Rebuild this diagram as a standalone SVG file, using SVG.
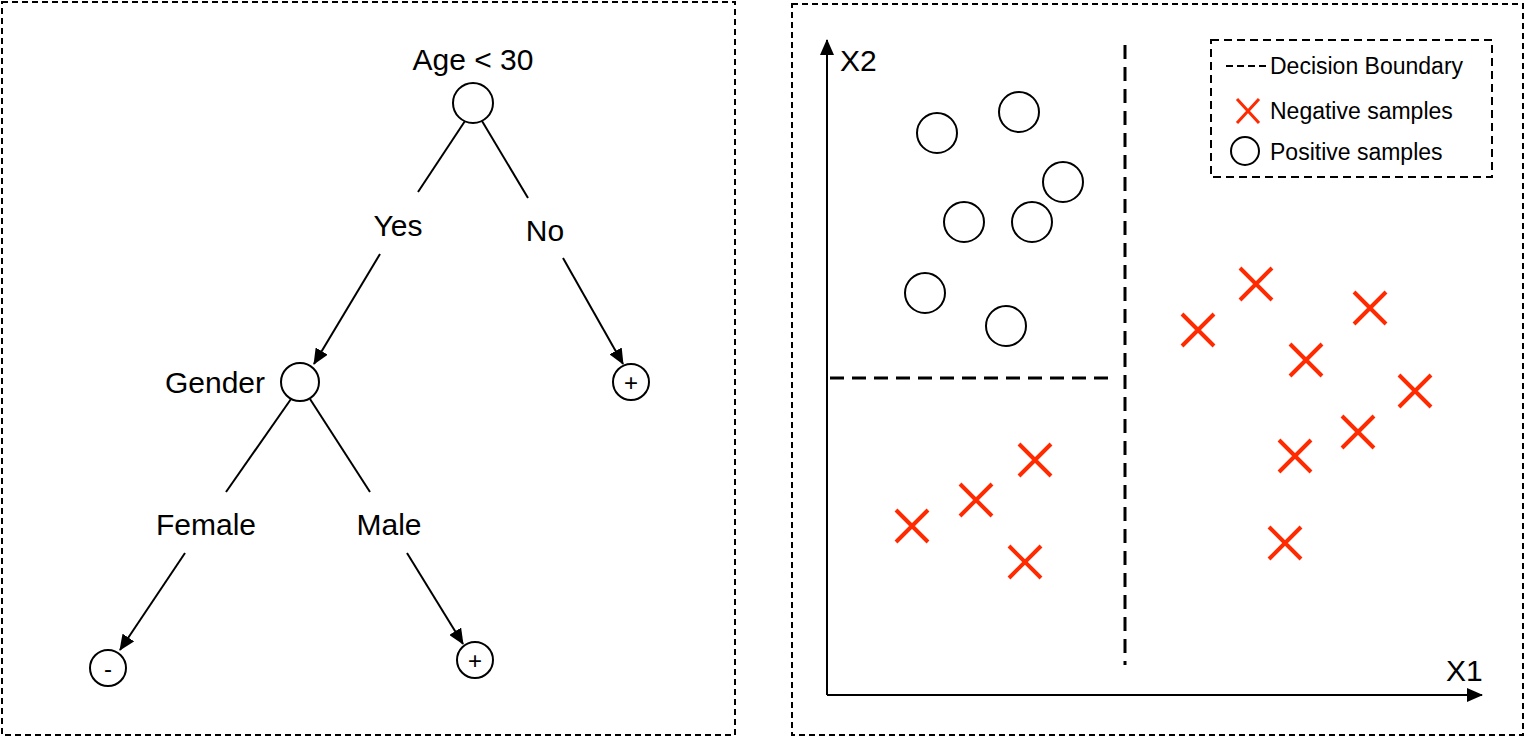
<svg xmlns="http://www.w3.org/2000/svg" width="1527" height="738" viewBox="0 0 1527 738">
<style>
text{font-family:"Liberation Sans",Arial,sans-serif;fill:#000}
.t{font-size:30px;text-anchor:middle}
.frame{fill:none;stroke:#000;stroke-width:2;stroke-dasharray:6 4}
.node{fill:#fff;stroke:#000;stroke-width:2}
.ln{stroke:#000;stroke-width:2;fill:none}
.x{stroke:#ff2a00;stroke-width:4;fill:none}
.bd{stroke:#000;stroke-width:3;fill:none;stroke-dasharray:14 8}
.lg{font-size:23px}
</style>
<defs>
<marker id="ah2" markerWidth="16" markerHeight="14" refX="15" refY="7" orient="auto" markerUnits="userSpaceOnUse"><path d="M0,0 L16,7 L0,14z" fill="#000"/></marker>
<g id="xm"><path class="x" d="M-16,-16L16,16M16,-16L-16,16"/></g>
</defs>
<rect class="frame" x="2" y="2" width="733" height="733"/>
<rect class="frame" x="792" y="4" width="731" height="731"/>
<g id="connectors">
<line class="ln" x1="465" y1="121" x2="418" y2="192"/>
<line class="ln" x1="482" y1="121" x2="528" y2="198"/>
<line class="ln" x1="380" y1="254" x2="314" y2="364" marker-end="url(#ah2)"/>
<line class="ln" x1="563" y1="258" x2="623" y2="364" marker-end="url(#ah2)"/>
<line class="ln" x1="291" y1="399" x2="226" y2="492"/>
<line class="ln" x1="310" y1="399" x2="370" y2="492"/>
<line class="ln" x1="185" y1="553" x2="120" y2="650" marker-end="url(#ah2)"/>
<line class="ln" x1="407" y1="553" x2="463" y2="644" marker-end="url(#ah2)"/>
</g>
<g id="root"><circle class="node" cx="473" cy="103" r="20"/><text class="t" x="473" y="70">Age &lt; 30</text></g>
<g id="yes"><text class="t" x="398" y="236">Yes</text></g>
<g id="no"><text class="t" x="545" y="241">No</text></g>
<g id="gender"><circle class="node" cx="300" cy="382" r="19"/><text class="t" x="215" y="393">Gender</text></g>
<g id="plus1"><circle class="node" cx="631" cy="382" r="18"/><text class="t" x="631" y="391" style="font-size:24px">+</text></g>
<g id="female"><text class="t" x="206" y="535">Female</text></g>
<g id="male"><text class="t" x="389" y="535">Male</text></g>
<g id="minus"><circle class="node" cx="108" cy="668" r="18"/><text class="t" x="108" y="677" style="font-size:24px">-</text></g>
<g id="plus2"><circle class="node" cx="475" cy="660" r="18"/><text class="t" x="475" y="669" style="font-size:24px">+</text></g>
<g id="plot">
<line class="ln" x1="827" y1="695" x2="827" y2="40" marker-end="url(#ah2)"/>
<line class="ln" x1="827" y1="695" x2="1482" y2="695" marker-end="url(#ah2)"/>
<text x="840" y="71" style="font-size:30px">X2</text>
<text x="1446" y="681" style="font-size:30px">X1</text>
<line class="bd" x1="1125" y1="45" x2="1125" y2="665"/>
<line class="bd" x1="830" y1="378" x2="1115" y2="378"/>
<circle class="node" cx="937" cy="133" r="20"/>
<circle class="node" cx="1019" cy="112" r="20"/>
<circle class="node" cx="1063" cy="182" r="20"/>
<circle class="node" cx="964" cy="222" r="20"/>
<circle class="node" cx="1032" cy="222" r="20"/>
<circle class="node" cx="925" cy="293" r="20"/>
<circle class="node" cx="1006" cy="326" r="20"/>
<use href="#xm" x="912" y="526"/><use href="#xm" x="976" y="500"/><use href="#xm" x="1035" y="460"/><use href="#xm" x="1025" y="562"/>
<use href="#xm" x="1198" y="330"/><use href="#xm" x="1256" y="284"/><use href="#xm" x="1306" y="360"/><use href="#xm" x="1370" y="308"/>
<use href="#xm" x="1415" y="391"/><use href="#xm" x="1358" y="432"/><use href="#xm" x="1295" y="456"/><use href="#xm" x="1285" y="543"/>
</g>
<g id="legend">
<rect class="frame" x="1211" y="40" width="281" height="137" style="stroke-dasharray:8 5"/>
<line x1="1226" y1="66" x2="1266" y2="66" stroke="#000" stroke-width="2" stroke-dasharray="7 4"/>
<text class="lg" x="1270" y="74">Decision Boundary</text>
<path class="x" d="M1237,99L1259,123M1259,99L1237,123" style="stroke-width:3"/>
<text class="lg" x="1270" y="119">Negative samples</text>
<circle class="node" cx="1245" cy="151" r="14"/>
<text class="lg" x="1270" y="160">Positive samples</text>
</g>
</svg>
